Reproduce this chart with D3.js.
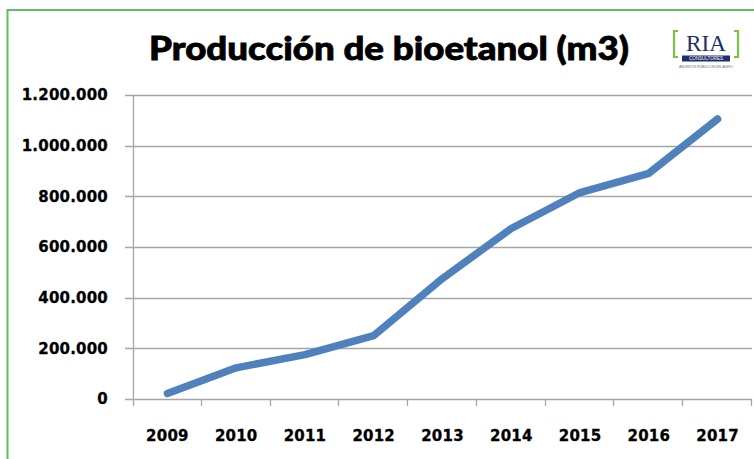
<!DOCTYPE html>
<html>
<head>
<meta charset="utf-8">
<script src="https://cdn.jsdelivr.net/npm/d3@7"></script>
<style>
  body { margin: 0; background: #fff; }
  svg { display: block; }
</style>
</head>
<body>
<svg width="754" height="459"></svg>
<script>
// data
var years = ["2009", "2010", "2011", "2012", "2013", "2014", "2015", "2016", "2017"];
var production = [22000, 123000, 175000, 250000, 476000, 673000, 815000, 891000, 1105000];
var yTicks = [0, 200000, 400000, 600000, 800000, 1000000, 1200000];

var svg = d3.select("svg");
var width = +svg.attr("width");
var height = +svg.attr("height");
var margin = {top: 95, right: 2, bottom: 60, left: 133};

// green frame
svg.append("path")
    .attr("d", "M7.5,459 L7.5,10 L754,10")
    .attr("fill", "none")
    .attr("stroke", "#5cc160")
    .attr("stroke-width", 2);

// title
svg.append("text")
    .attr("x", 389).attr("y", 60)
    .attr("text-anchor", "middle")
    .attr("font-family", "Lato, 'Open Sans', sans-serif")
    .attr("font-weight", 900)
    .attr("font-size", 32)
    .attr("textLength", 480)
    .attr("lengthAdjust", "spacingAndGlyphs")
    .attr("fill", "#000")
    .attr("stroke", "#000")
    .attr("stroke-width", 0.8)
    .text("Producción de bioetanol (m3)");

// scales
var x = d3.scaleBand()
    .domain(years)
    .range([margin.left, width - margin.right]);
var y = d3.scaleLinear()
    .domain([0, 1200000])
    .range([height - margin.bottom, margin.top]);

var fmt = function(v){
    return d3.format(",")(v).replace(/,/g, ".");
};

var styleLabels = function(sel){
    sel.attr("font-family", "'DejaVu Sans', sans-serif")
        .attr("font-weight", "bold")
        .attr("font-size", 15)
        .attr("letter-spacing", 0.2)
        .attr("fill", "#000")
        .attr("stroke", "#000")
        .attr("stroke-width", 0.3);
};

// gridlines
svg.append("g")
    .selectAll("line")
    .data(yTicks).enter()
    .append("line")
    .attr("x1", margin.left - 8)
    .attr("x2", width - margin.right)
    .attr("y1", d => Math.round(y(d)) + 0.5)
    .attr("y2", d => Math.round(y(d)) + 0.5)
    .attr("stroke", "#a6a6a6")
    .attr("stroke-width", 1.3);

// y axis
var yAxis = svg.append("g")
    .attr("transform", "translate(" + (margin.left - 22) + ",0)")
    .call(d3.axisLeft(y).tickValues(yTicks).tickFormat(fmt).tickSize(0));
yAxis.select(".domain").remove();
yAxis.selectAll("text").call(styleLabels);

svg.append("line")
    .attr("x1", margin.left + 0.5).attr("x2", margin.left + 0.5)
    .attr("y1", margin.top).attr("y2", height - margin.bottom + 7)
    .attr("stroke", "#a6a6a6")
    .attr("stroke-width", 1.3);

// x axis
var xTickPos = years.map(d => x(d)).concat([width - margin.right]);
svg.append("g")
    .selectAll("line")
    .data(xTickPos.slice(1)).enter()
    .append("line")
    .attr("x1", d => Math.round(d) - 0.5)
    .attr("x2", d => Math.round(d) - 0.5)
    .attr("y1", y(0))
    .attr("y2", y(0) + 7)
    .attr("stroke", "#a6a6a6")
    .attr("stroke-width", 1.3);

var xAxis = svg.append("g")
    .attr("transform", "translate(0," + (y(0) + 28) + ")")
    .call(d3.axisBottom(x).tickSize(0));
xAxis.select(".domain").remove();
xAxis.selectAll("text").call(styleLabels);

// line
var lineMaker = d3.line()
    .x((d, i) => x(years[i]) + x.bandwidth() / 2)
    .y(d => y(d));
svg.append("path")
    .attr("fill", "none")
    .attr("stroke", "#4f81bd")
    .attr("stroke-width", 7.5)
    .attr("stroke-linecap", "round")
    .attr("stroke-linejoin", "round")
    .attr("d", lineMaker(production));

// RIA logo
var logo = svg.append("g").attr("transform", "translate(706,0)");
logo.append("path")
    .attr("d", "M-28,31 L-32,31 L-32,57 L-28,57 M28,31 L32,31 L32,57 L28,57")
    .attr("fill", "none")
    .attr("stroke", "#7cc242")
    .attr("stroke-width", 2.2);
logo.append("text")
    .attr("x", 0).attr("y", 51)
    .attr("text-anchor", "middle")
    .attr("font-family", "'Liberation Serif', 'DejaVu Serif', serif")
    .attr("font-size", 23)
    .attr("textLength", 40)
    .attr("lengthAdjust", "spacingAndGlyphs")
    .attr("fill", "#1f2f6b")
    .text("RIA");
logo.append("rect")
    .attr("x", -24).attr("y", 55.5)
    .attr("width", 48).attr("height", 6)
    .attr("fill", "#1f2f6b");
logo.append("text")
    .attr("x", 0).attr("y", 60.3)
    .attr("text-anchor", "middle")
    .attr("font-family", "'Liberation Sans', sans-serif")
    .attr("font-size", 4.5)
    .attr("fill", "#fff")
    .text("CONSULTORES");
logo.append("text")
    .attr("x", 0).attr("y", 67.5)
    .attr("text-anchor", "middle")
    .attr("font-family", "'Liberation Sans', sans-serif")
    .attr("font-size", 4)
    .attr("textLength", 54)
    .attr("fill", "#777")
    .text("ASUNTOS PÚBLICOS DEL AGRO");
</script>
</body>
</html>
